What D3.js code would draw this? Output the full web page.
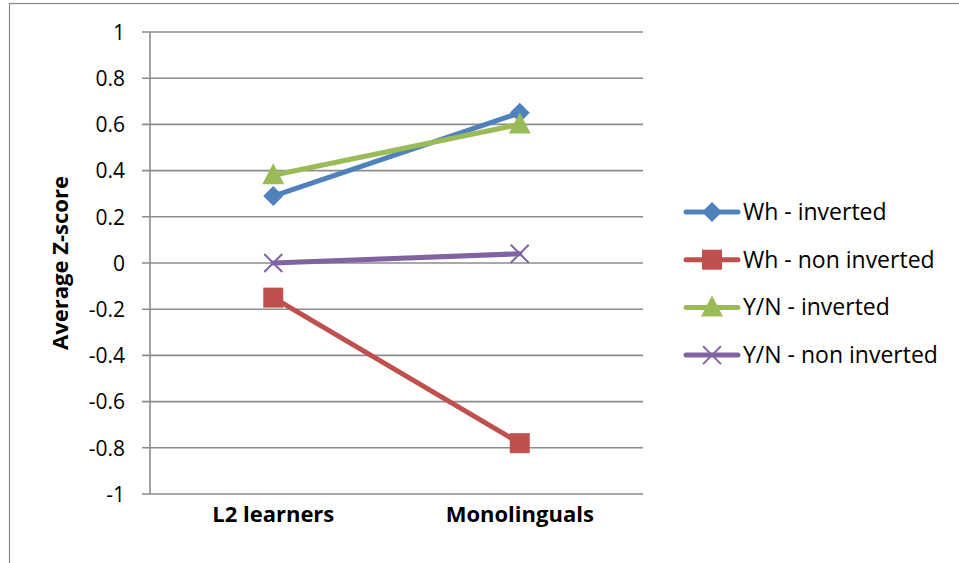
<!DOCTYPE html>
<html><head><meta charset="utf-8">
<script src="https://cdn.jsdelivr.net/npm/d3@7"></script>
<style>html,body{margin:0;padding:0;background:#fff;overflow:hidden}</style>
</head><body>
<svg id="c" width="959" height="563"></svg>
<script>
const categories = ["L2 learners", "Monolinguals"];
const seriesNames = ["Wh - inverted", "Wh - non inverted", "Y/N - inverted", "Y/N - non inverted"];
const whInverted = [0.29, 0.65];
const whNonInverted = [-0.15, -0.78];
const ynInverted = [0.38, 0.60];
const ynNonInverted = [0.00, 0.04];
const yTicks = [1, 0.8, 0.6, 0.4, 0.2, 0, -0.2, -0.4, -0.6, -0.8, -1];
const colors = ["#4F81BD", "#C0504D", "#9BBB59", "#8064A2"];
const markers = ["diamond", "square", "triangle", "x"];

const series = [whInverted, whNonInverted, ynInverted, ynNonInverted].map((v, i) => ({
  name: seriesNames[i], values: v, color: colors[i], marker: markers[i]
}));

const svg = d3.select("#c");
const font = "'Open Sans', 'Noto Sans', sans-serif";
const L = 150, R = 643, T = 32, B = 494;

// outer border
svg.append("rect").attr("x", 9.5).attr("y", 3.5).attr("width", 1000).attr("height", 1000)
  .attr("fill", "none").attr("stroke", "#888").attr("stroke-width", 1.2);

const x = d3.scaleBand().domain(categories).range([L, R]);
const y = d3.scaleLinear().domain([-1, 1]).range([B, T]);

// gridlines + tick marks
const grid = svg.append("g");
yTicks.forEach(t => {
  grid.append("line").attr("x1", L - 8).attr("x2", R).attr("y1", y(t)).attr("y2", y(t))
    .attr("stroke", "#8c8c8c").attr("stroke-width", 1.6);
});
// y axis line
grid.append("line").attr("x1", L).attr("x2", L).attr("y1", T).attr("y2", B)
  .attr("stroke", "#8c8c8c").attr("stroke-width", 1.6);

// y axis labels
const yAxis = d3.axisLeft(y).tickValues(yTicks).tickSize(0).tickPadding(0)
  .tickFormat(d => (+d.toFixed(1)).toString());
const yg = svg.append("g").attr("transform", `translate(${L - 25},0)`).call(yAxis);
yg.select(".domain").remove();
yg.selectAll("text").attr("font-family", font).attr("font-size", 21).attr("fill", "#000")
  .attr("dy", "0.35em");

// x axis labels
const xAxis = d3.axisBottom(x).tickSize(0).tickPadding(0);
const xg = svg.append("g").attr("transform", `translate(0,${B + 10})`).call(xAxis);
xg.select(".domain").remove();
xg.selectAll("text").attr("font-family", font).attr("font-size", 22).attr("font-weight", "bold")
  .attr("fill", "#000").attr("dy", "0.8em");

// y axis title
svg.append("text").attr("transform", `translate(68,${y(0)}) rotate(-90)`)
  .attr("text-anchor", "middle").attr("font-family", font).attr("font-size", 22)
  .attr("font-weight", "bold").text("Average Z-score");

function drawMarker(g, type, cx, cy, color) {
  if (type === "diamond") {
    const s = 10;
    g.append("path").attr("d", `M${cx},${cy - s}L${cx + s},${cy}L${cx},${cy + s}L${cx - s},${cy}Z`).attr("fill", color);
  } else if (type === "square") {
    const s = 10;
    g.append("rect").attr("x", cx - s).attr("y", cy - s).attr("width", 2 * s).attr("height", 2 * s).attr("fill", color);
  } else if (type === "triangle") {
    g.append("path").attr("d", `M${cx},${cy - 12}L${cx + 11},${cy + 9}L${cx - 11},${cy + 9}Z`).attr("fill", color);
  } else {
    const s = 9;
    g.append("path").attr("d", `M${cx - s},${cy - s}L${cx + s},${cy + s}M${cx - s},${cy + s}L${cx + s},${cy - s}`)
      .attr("stroke", color).attr("stroke-width", 2).attr("fill", "none");
  }
}

const line = d3.line().x((d, i) => x(categories[i]) + x.bandwidth() / 2).y(d => y(d));
series.forEach(s => {
  const g = svg.append("g");
  g.append("path").attr("d", line(s.values)).attr("fill", "none").attr("stroke", s.color)
    .attr("stroke-width", 5).attr("stroke-linecap", "round");
  s.values.forEach((v, i) => drawMarker(g, s.marker, x(categories[i]) + x.bandwidth() / 2, y(v), s.color));
});

// legend
const leg = svg.append("g");
series.forEach((s, i) => {
  const ly = 212 + i * 47.7;
  const g = leg.append("g");
  g.append("line").attr("x1", 686).attr("x2", 738).attr("y1", ly).attr("y2", ly)
    .attr("stroke", s.color).attr("stroke-width", 5).attr("stroke-linecap", "round");
  drawMarker(g, s.marker, 712, ly, s.color);
  g.append("text").attr("x", 743).attr("y", ly).attr("dy", "0.35em")
    .attr("font-family", font).attr("font-size", 23).attr("fill", "#000").text(s.name);
});
</script>
</body></html>
